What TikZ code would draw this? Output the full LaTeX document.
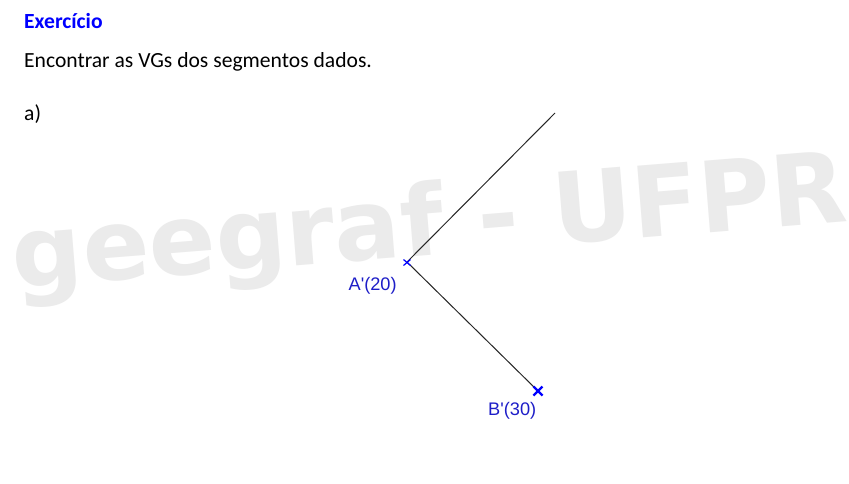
\documentclass[tikz,border=0pt]{standalone}
\usepackage{fontspec}
\setmainfont{Carlito}
\newfontfamily\arialf{Liberation Sans}
\newfontfamily\wmf{DejaVu Sans}
\definecolor{wm}{gray}{0.92}
\definecolor{lbl}{RGB}{30,30,200}
\tikzset{txt/.style={anchor=base west,inner sep=0pt,font=\fontsize{21.6}{26}\selectfont},
pt/.style={anchor=base west,inner sep=0pt,text=lbl,font=\arialf\fontsize{18.2}{21}\selectfont},
seg/.style={draw=black!85,line width=1pt},
mk/.style={draw=blue,line width=1.2pt}}
\begin{document}
\begin{tikzpicture}[x=1pt,y=-1pt]
\useasboundingbox (0,0) rectangle (849,483);
\fill[white] (0,0) rectangle (849,483);
\node[rotate=4.6,text=wm,inner sep=0pt,font=\wmf\bfseries\fontsize{98.5}{100}\selectfont] (w) at (430,228) {geegraf - UFPR};
\node[txt,text=blue] (t1) at (24,28.5) {\textbf{Exercício}};
\node[txt] (t2) at (24,67.5) {Encontrar as VGs dos segmentos dados.};
\node[txt] (t3) at (24,120.5) {a)};
\coordinate (A) at (407,262);
\coordinate (B) at (538,391);
\coordinate (C) at (555,113);
\draw[seg] (A)--(C);
\draw[seg] (A)--(B);
\draw[mk] (403.5,259.5)--(410.5,265.5) (403.5,265.5)--(410.5,259.5);
\draw[mk,line width=2.2pt] (533.5,386.5)--(542.5,395.5) (533.5,395.5)--(542.5,386.5);
\node[pt] (la) at (348.5,290) {A'(20)};
\node[pt] (lb) at (488,415) {B'(30)};
\end{tikzpicture}
\end{document}
